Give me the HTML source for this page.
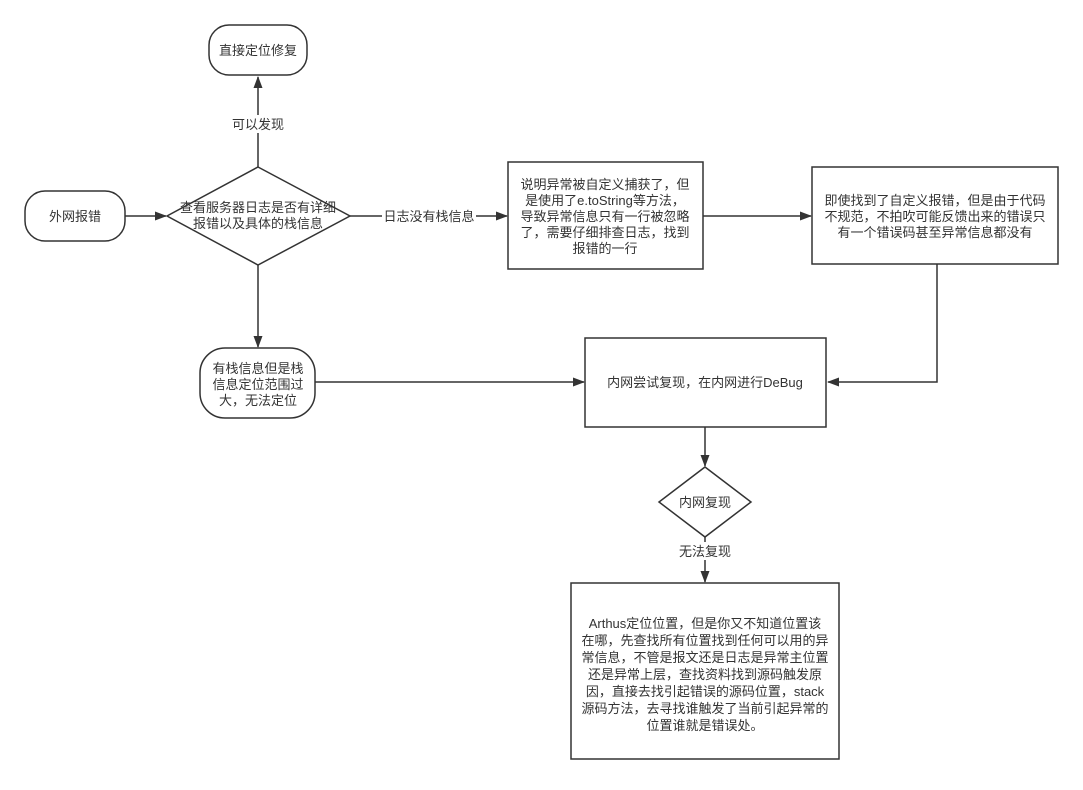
<!DOCTYPE html>
<html><head><meta charset="utf-8"><style>
body{margin:0;background:#fff;}
svg text{font-family:"Liberation Sans","Noto Sans CJK SC",sans-serif;font-size:13px;fill:#333;text-anchor:middle;}
</style></head><body>
<svg width="1083" height="785" viewBox="0 0 1083 785" xmlns="http://www.w3.org/2000/svg">
<defs><marker id="a" markerWidth="12" markerHeight="12" refX="11" refY="6" orient="auto" markerUnits="userSpaceOnUse"><path d="M0,1.5 L12,6 L0,10.5 Z" fill="#333"/></marker></defs>
<g fill="#fff" stroke="#333" stroke-width="1.5">
<rect x="209" y="25" width="98" height="50" rx="20"/>
<rect x="25" y="191" width="100" height="50" rx="20"/>
<polygon points="258,167 350,216 258,265 167,216"/>
<rect x="200" y="348" width="115" height="70" rx="25"/>
<rect x="508" y="162" width="195" height="107"/>
<rect x="812" y="167" width="246" height="97"/>
<rect x="585" y="338" width="241" height="89"/>
<polygon points="705,467 751,502 705,537 659,502"/>
<rect x="571" y="583" width="268" height="176"/>
</g>
<g fill="none" stroke="#333" stroke-width="1.5">
<path d="M258,167 V77" marker-end="url(#a)"/>
<path d="M125,216 H166" marker-end="url(#a)"/>
<path d="M350,216 H507" marker-end="url(#a)"/>
<path d="M703,216 H811" marker-end="url(#a)"/>
<path d="M937,264 V382 H828" marker-end="url(#a)"/>
<path d="M258,265 V347" marker-end="url(#a)"/>
<path d="M315,382 H584" marker-end="url(#a)"/>
<path d="M705,427 V466" marker-end="url(#a)"/>
<path d="M705,537 V582" marker-end="url(#a)"/>
</g>
<g fill="#fff">
<rect x="226" y="115" width="64" height="18"/>
<rect x="382" y="207" width="94" height="18"/>
<rect x="674" y="542" width="62" height="18"/>
</g>
<text x="258" y="55">直接定位修复</text>
<text x="258" y="129">可以发现</text>
<text x="75" y="221">外网报错</text>
<text x="258" y="212">查看服务器日志是否有详细</text>
<text x="258" y="228">报错以及具体的栈信息</text>
<text x="429" y="221">日志没有栈信息</text>
<text x="258" y="373">有栈信息但是栈</text>
<text x="258" y="389">信息定位范围过</text>
<text x="258" y="405">大，无法定位</text>
<text x="605" y="189">说明异常被自定义捕获了，但</text>
<text x="605" y="205">是使用了e.toString等方法，</text>
<text x="605" y="221">导致异常信息只有一行被忽略</text>
<text x="605" y="237">了，需要仔细排查日志，找到</text>
<text x="605" y="253">报错的一行</text>
<text x="935" y="205">即使找到了自定义报错，但是由于代码</text>
<text x="935" y="221">不规范，不拍吹可能反馈出来的错误只</text>
<text x="935" y="237">有一个错误码甚至异常信息都没有</text>
<text x="705" y="387">内网尝试复现，在内网进行DeBug</text>
<text x="705" y="507">内网复现</text>
<text x="705" y="556">无法复现</text>
<g>
<text x="705" y="628">Arthus定位位置，但是你又不知道位置该</text>
<text x="705" y="645">在哪，先查找所有位置找到任何可以用的异</text>
<text x="705" y="662">常信息，不管是报文还是日志是异常主位置</text>
<text x="705" y="679">还是异常上层，查找资料找到源码触发原</text>
<text x="705" y="696">因，直接去找引起错误的源码位置，stack</text>
<text x="705" y="713">源码方法，去寻找谁触发了当前引起异常的</text>
<text x="705" y="730">位置谁就是错误处。</text>
</g>
</svg>
</body></html>
